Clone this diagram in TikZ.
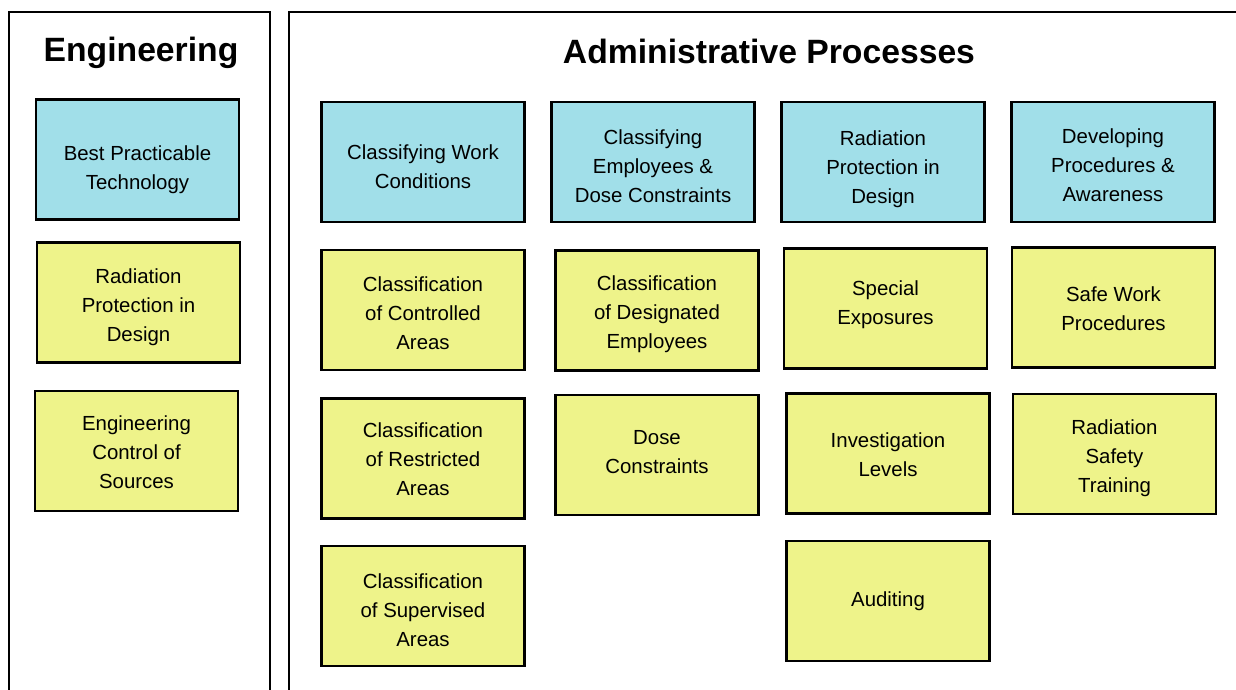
\documentclass[tikz,border=0pt]{standalone}
\usepackage{fontspec}
\setmainfont{Liberation Sans}
\definecolor{boxblue}{RGB}{161,223,233}
\definecolor{boxyellow}{RGB}{238,243,138}
\tikzset{
  panel/.style={draw=black, line width=2pt},
  title/.style={anchor=base, font=\fontsize{33.7}{40}\selectfont\bfseries, inner sep=0pt},
  cbox/.style={draw=black, line width=2.2pt, inner sep=0pt,
    minimum width=203pt, minimum height=120pt},
  txt/.style={align=center, inner sep=0pt, font=\fontsize{20.4}{29}\selectfont},
  bbox/.style={cbox, fill=boxblue},
  ybox/.style={cbox, fill=boxyellow}
}
\newcommand{\cboxnode}[5]{\node[#1, label={[txt,yshift=#4pt]center:{#5}}] (#2) at (#3) {};}
\begin{document}
\begin{tikzpicture}[x=1pt,y=-1pt]
\useasboundingbox (0,0) rectangle (1236,689);
\begin{scope}
  \clip (0,0) rectangle (1236,689);
  \draw[panel] (9,12) rectangle (270,720);
  \draw[panel] (289,12) rectangle (1260,720);
\end{scope}
\node[title] (engT) at (141,61) {Engineering};
\node[title] (admT) at (769,63) {Administrative Processes};
% Engineering column
\cboxnode{bbox}{bpt}{137.5,159.5}{-10}{Best Practicable\\Technology}
\cboxnode{ybox}{rpde}{138.5,302.5}{-5}{Radiation\\Protection in\\Design}
\cboxnode{ybox}{ecs}{136.5,451}{-1}{Engineering\\Control of\\Sources}
% Column 1
\cboxnode{bbox}{cwc}{423,162}{-5}{Classifying Work\\Conditions}
\cboxnode{ybox}{cca}{423,310}{-3}{Classification\\of Controlled\\Areas}
\cboxnode{ybox}{cra}{423,458.5}{-1}{Classification\\of Restricted\\Areas}
\cboxnode{ybox}{csa}{423,606}{-4}{Classification\\of Supervised\\Areas}
% Column 2
\cboxnode{bbox}{ced}{653,162}{-4}{Classifying\\Employees \&\\Dose Constraints}
\cboxnode{ybox}{cde}{657,310.5}{-4}{Classification\\of Designated\\Employees}
\cboxnode{ybox}{dc}{657,455}{3}{Dose\\Constraints}
% Column 3
\cboxnode{bbox}{rpda}{883,162}{-7}{Radiation\\Protection in\\Design}
\cboxnode{ybox}{se}{885.5,308.5}{4}{Special\\Exposures}
\cboxnode{ybox}{il}{888,453.5}{-1}{Investigation\\Levels}
\cboxnode{ybox}{aud}{888,601}{0}{Auditing}
% Column 4
\cboxnode{bbox}{dpa}{1113,162}{-3}{Developing\\Procedures \&\\Awareness}
\cboxnode{ybox}{swp}{1113.5,307.5}{-1}{Safe Work\\Procedures}
\cboxnode{ybox}{rst}{1114.5,454}{-4}{Radiation\\Safety\\Training}
\end{tikzpicture}
\end{document}
